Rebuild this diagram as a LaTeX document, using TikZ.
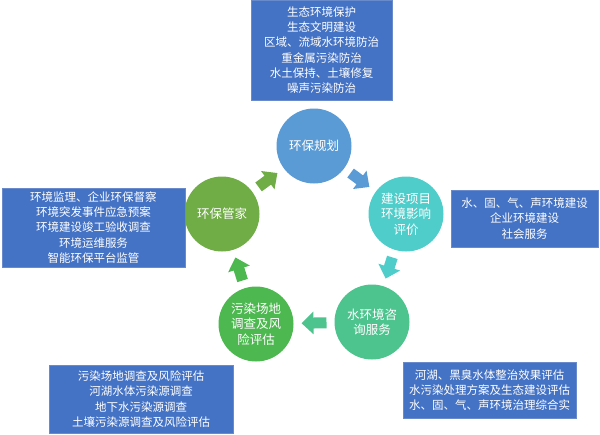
\documentclass[tikz,border=0pt]{standalone}
\usepackage{fontspec}
\setmainfont{Noto Sans CJK SC}
\usetikzlibrary{positioning}
\usetikzlibrary{arrows.meta}

\definecolor{boxblue}{HTML}{4472C4}
\definecolor{boxedge}{HTML}{6A8BCB}
\definecolor{planblue}{HTML}{5B9BD5}
\definecolor{evalteal}{HTML}{4FCDCA}
\definecolor{waterteal}{HTML}{4DC48E}
\definecolor{sitegreen}{HTML}{4CB84F}
\definecolor{stewardgreen}{HTML}{70AD47}

\tikzset{
  svcbox/.style={rectangle,fill=boxblue,draw=boxedge,line width=0.6pt,text=white,align=center,inner sep=0pt,font=\fontsize{11.5}{15.3}\selectfont},
  stage/.style={circle,minimum size=75pt,inner sep=0pt,outer sep=0pt,text=white,align=center,font=\fontsize{12.5}{15.5}\selectfont},
  flow/.style={line width=11pt,-{Triangle[width=22pt,length=12pt]},shorten <=8pt,shorten >=8pt}
}

\begin{document}
\begin{tikzpicture}[x=1pt,y=-1pt]
\useasboundingbox (0,0) rectangle (600,434);

% circles of the cycle
\node[stage,fill=planblue] (plan) at (314,146) {环保规划};
\node[stage,fill=evalteal] (eia) at (406,214) {建设项目\\环境影响\\评价};
\node[stage,fill=waterteal] (water) at (372,322) {水环境咨\\询服务};
\node[stage,fill=sitegreen] (site) at (256,324) {污染场地\\调查及风\\险评估};
\node[stage,fill=stewardgreen] (steward) at (222,214) {环保管家};

\draw[flow,planblue] (plan) -- (eia);
\draw[flow,evalteal] (eia) -- (water);
\draw[flow,waterteal] (water) -- (site);
\draw[flow,sitegreen] (site) -- (steward);
\draw[flow,stewardgreen] (steward) -- (plan);

% service boxes
\node[svcbox,minimum width=141pt,minimum height=100pt] (ecology) at (321.5,50) {生态环境保护\\生态文明建设\\区域、流域水环境防治\\重金属污染防治\\水土保持、土壤修复\\噪声污染防治};
\node[svcbox,minimum width=183pt,minimum height=79pt] (butler) at (93.5,227.5) {环境监理、企业环保督察\\环境突发事件应急预案\\环境建设竣工验收调查\\环境运维服务\\智能环保平台监管};
\node[svcbox,minimum width=147pt,minimum height=57pt] (build) at (524.5,218.5) {水、固、气、声环境建设\\企业环境建设\\社会服务};
\node[svcbox,minimum width=184pt,minimum height=68pt] (soil) at (141,399) {污染场地调查及风险评估\\河湖水体污染源调查\\地下水污染源调查\\土壤污染源调查及风险评估};
\node[svcbox,minimum width=173pt,minimum height=56pt] (river) at (489.5,390) {河湖、黑臭水体整治效果评估\\水污染处理方案及生态建设评估\\水、固、气、声环境治理综合实};

\end{tikzpicture}
\end{document}
